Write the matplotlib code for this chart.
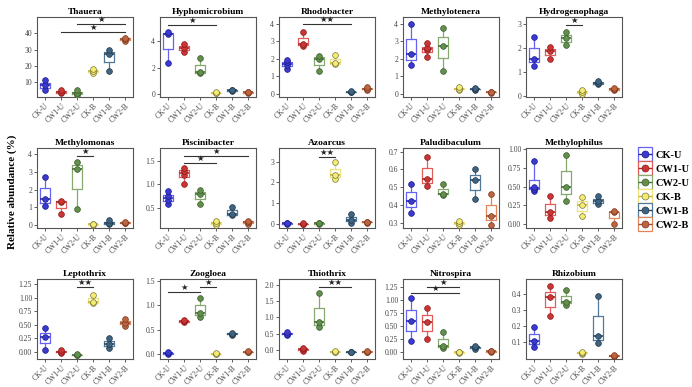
import numpy as np
import matplotlib
matplotlib.use('Agg')
import matplotlib.pyplot as plt
from matplotlib.lines import Line2D
from matplotlib.legend_handler import HandlerTuple

plt.rcParams['font.family'] = ['Liberation Serif', 'DejaVu Serif']

groups = ['CK-U', 'CW1-U', 'CW2-U', 'CK-B', 'CW1-B', 'CW2-B']
box_colors = ['#6464f0', '#e35c5c', '#86a96e', '#efe27a', '#52799a', '#e0855c']
pt_colors = ['#3a3ad0', '#cc3535', '#62904c', '#f4ec70', '#3e6482', '#bd6440']
pt_edges = ['#1c1c8a', '#8a1c1c', '#3a5a2c', '#7a7440', '#22384a', '#7a3a20']
med_colors = ['#2a2ab0', '#b02828', '#4a7038', '#c8b840', '#2c4a62', '#a04e2c']

genera = ['Thauera', 'Hyphomicrobium', 'Rhodobacter', 'Methylotenera', 'Hydrogenophaga',
          'Methylomonas', 'Piscinibacter', 'Azoarcus', 'Paludibaculum', 'Methylophilus',
          'Leptothrix', 'Zoogloea', 'Thiothrix', 'Nitrospira', 'Rhizobium']

# values per genus: one list per group (CK-U, CW1-U, CW2-U, CK-B, CW1-B, CW2-B)
thauera = [[5, 8.5, 11.2], [3.2, 4.2, 5.2], [2.5, 3.5, 5.0], [16, 17, 18], [17, 27.5, 29.8], [35.5, 36.5, 37.2]]
hyphomicrobium = [[2.35, 4.5, 4.65], [3.2, 3.45, 3.75], [1.6, 1.65, 2.7], [0.1, 0.12, 0.15], [0.25, 0.3, 0.32], [0.12, 0.15, 0.18]]
rhodobacter = [[1.42, 1.65, 1.8, 1.95], [2.75, 2.85, 3.5], [1.28, 2.0, 2.15], [1.7, 1.75, 2.2], [0.1, 0.12, 0.15], [0.25, 0.3, 0.38]]
methylotenera = [[1.65, 2.25, 4.0], [2.1, 2.5, 2.6, 2.9], [1.28, 2.75, 3.72], [0.25, 0.3, 0.38], [0.25, 0.28, 0.32], [0.08, 0.1, 0.12]]
hydrogenophaga = [[1.25, 1.55, 2.45], [1.55, 1.85, 2.05], [2.1, 2.4, 2.65], [0.1, 0.18, 0.25], [0.5, 0.55, 0.65], [0.25, 0.3, 0.35]]
methylomonas = [[1.08, 1.45, 2.72], [0.62, 1.32, 1.38], [0.93, 3.15, 3.55], [0.03, 0.05, 0.08], [0.05, 0.12, 0.3], [0.12, 0.15, 0.2]]
piscinibacter = [[0.58, 0.66, 0.75, 0.86], [1.0, 1.2, 1.28, 1.35], [0.57, 0.8, 0.88], [0.13, 0.17, 0.2], [0.33, 0.37, 0.52], [0.15, 0.18, 0.22]]
azoarcus = [[0.0, 0.02, 0.05], [0.0, 0.01, 0.02], [0.0, 0.02, 0.03], [2.15, 2.35, 2.97], [0.05, 0.2, 0.45], [0.05, 0.08, 0.1]]
paludibaculum = [[0.355, 0.425, 0.52], [0.505, 0.545, 0.67], [0.455, 0.465, 0.52], [0.29, 0.30, 0.31], [0.435, 0.54, 0.6], [0.29, 0.34, 0.46]]
methylophilus = [[0.44, 0.47, 0.5, 0.84], [0.08, 0.15, 0.37], [0.3, 0.5, 0.92], [0.1, 0.25, 0.36], [0.26, 0.3, 0.37], [0.0, 0.15, 0.17]]
leptothrix = [[0.04, 0.27, 0.44], [-0.03, 0.0, 0.04], [-0.07, -0.06, -0.05], [0.9, 0.92, 1.06], [0.07, 0.15, 0.25], [0.48, 0.53, 0.6]]
zoogloea = [[0.0, 0.02, 0.04], [0.66, 0.68, 0.7], [0.77, 0.85, 1.16], [0.0, 0.01, 0.02], [0.4, 0.42, 0.44], [0.04, 0.05, 0.06]]
thiothrix = [[0.45, 0.5, 0.55], [-0.02, 0.02, 0.05], [0.7, 0.85, 1.75], [-0.06, -0.05, -0.04], [-0.07, -0.06, -0.05], [-0.06, -0.05, -0.04]]
nitrospira = [[0.22, 0.6, 1.03], [0.25, 0.58, 0.85], [0.08, 0.12, 0.38], [-0.02, 0.0, 0.01], [0.06, 0.09, 0.12], [0.0, 0.02, 0.03]]
rhizobium = [[0.065, 0.105, 0.19], [0.26, 0.38, 0.45], [0.335, 0.35, 0.43], [0.02, 0.03, 0.035], [0.09, 0.135, 0.39], [0.01, 0.012, 0.015]]

all_data = [thauera, hyphomicrobium, rhodobacter, methylotenera, hydrogenophaga,
            methylomonas, piscinibacter, azoarcus, paludibaculum, methylophilus,
            leptothrix, zoogloea, thiothrix, nitrospira, rhizobium]

ylims = [(1, 50), (-0.2, 5.8), (-0.17, 4.37), (-0.17, 4.37), (-0.03, 3.27),
         (-0.15, 4.32), (0.06, 1.78), (-0.2, 3.65), (0.272, 0.72), (-0.06, 1.02),
         (-0.136, 1.35), (-0.095, 1.54), (-0.28, 2.18), (-0.13, 1.4), (-0.01, 0.497)]
yticks = [[10, 20, 30, 40], [0, 2, 4], [0, 1, 2, 3, 4], [0, 1, 2, 3, 4], [0, 1, 2, 3],
          [0, 1, 2, 3, 4], [0.5, 1.0, 1.5], [0, 1, 2, 3], [0.3, 0.4, 0.5, 0.6, 0.7], [0, 0.25, 0.5, 0.75, 1.0],
          [0, 0.25, 0.5, 0.75, 1.0, 1.25], [0, 0.5, 1.0, 1.5], [0, 0.5, 1.0, 1.5, 2.0], [0, 0.25, 0.5, 0.75, 1.0, 1.25], [0.1, 0.2, 0.3, 0.4]]
yfmt = ['%d', '%d', '%d', '%d', '%d', '%d', '%.1f', '%d', '%.1f', '%.2f',
        '%.2f', '%.1f', '%.1f', '%.2f', '%.1f']

# significance brackets: (from group, to group, y, label)
sig = [[(2, 5, 45.6, '★'), (1, 5, 41, '★')],
       [(0, 3, 5.2, '★')],
       [(1, 4, 3.95, '★★')],
       [],
       [(2, 3, 2.93, '★')],
       [(2, 3, 3.87, '★')],
       [(1, 5, 1.61, '★'), (1, 3, 1.46, '★')],
       [(2, 3, 3.24, '★★')],
       [],
       [],
       [(2, 3, 1.21, '★★')],
       [(0, 2, 1.28, '★'), (2, 3, 1.38, '★')],
       [(2, 4, 1.92, '★★')],
       [(1, 3, 1.25, '★'), (0, 3, 1.14, '★')],
       []]

fig = plt.figure(figsize=(6.92, 3.87), dpi=100)
W, H = 692.0, 387.0
col_left = [37, 160, 279, 403, 526]
row_top = [17, 148, 279]
aw, ah = 96, 80

pos = np.arange(6)
for k in range(15):
    r, c = k // 5, k % 5
    ax = fig.add_axes([col_left[c] / W, 1 - (row_top[r] + ah) / H, aw / W, ah / H])
    data = all_data[k]
    bp = ax.boxplot(data, positions=pos, widths=0.6, whis=(0, 100), showfliers=False,
                    patch_artist=False, manage_ticks=False)
    for i in range(6):
        bp['boxes'][i].set(color=box_colors[i], linewidth=0.9)
        bp['medians'][i].set(color=med_colors[i], linewidth=1.2)
        for w in bp['whiskers'][2 * i:2 * i + 2]:
            w.set(color=box_colors[i], linewidth=0.9)
        for cp in bp['caps'][2 * i:2 * i + 2]:
            cp.set(visible=False)
        ax.scatter(np.full(len(data[i]), pos[i]), data[i], s=17, color=pt_colors[i],
                   edgecolor=pt_edges[i], linewidth=0.5, zorder=3)
    ax.set_xlim(-0.5, 5.5)
    ax.set_ylim(*ylims[k])
    ax.set_yticks(yticks[k])
    ax.set_yticklabels([yfmt[k] % v for v in yticks[k]])
    ax.set_xticks(pos)
    ax.set_xticklabels(groups, rotation=45, ha='right', rotation_mode='anchor')
    ax.tick_params(labelsize=5.5, length=2, width=0.6, colors='#444', pad=1.5)
    for s in ax.spines.values():
        s.set_color('#555')
        s.set_linewidth(0.8)
    ax.set_title(genera[k], fontsize=6.8, fontweight='bold', pad=2)
    for a, b, y, lab in sig[k]:
        ax.plot([a, b], [y, y], color='#333', linewidth=0.8)
        ax.text((a + b) / 2, y, lab, ha='center', va='bottom', fontsize=6,
                family=['DejaVu Sans'], color='#222')

fig.text(12 / W, 1 - 192 / H, 'Relative abundance (%)', rotation=90, ha='center', va='center',
         fontsize=8, fontweight='bold')

handles = []
for i in range(6):
    sq = Line2D([], [], marker='s', markersize=10, markerfacecolor='white',
                markeredgecolor=box_colors[i], markeredgewidth=0.9, linestyle='none')
    md = Line2D([], [], marker='_', markersize=10, markeredgecolor=med_colors[i],
                markeredgewidth=1.0, linestyle='none')
    ci = Line2D([], [], marker='o', markersize=5, markerfacecolor=pt_colors[i],
                markeredgecolor=pt_edges[i], markeredgewidth=0.5, linestyle='none')
    handles.append((sq, md, ci))
fig.legend(handles, groups, handler_map={tuple: HandlerTuple(ndivide=1)},
           loc='center left', bbox_to_anchor=(630 / W, 1 - 190 / H), frameon=False,
           prop={'size': 7.5, 'weight': 'bold'}, handlelength=1.0, handletextpad=0.5,
           labelspacing=0.45)

fig.savefig('out.png', dpi=100)
